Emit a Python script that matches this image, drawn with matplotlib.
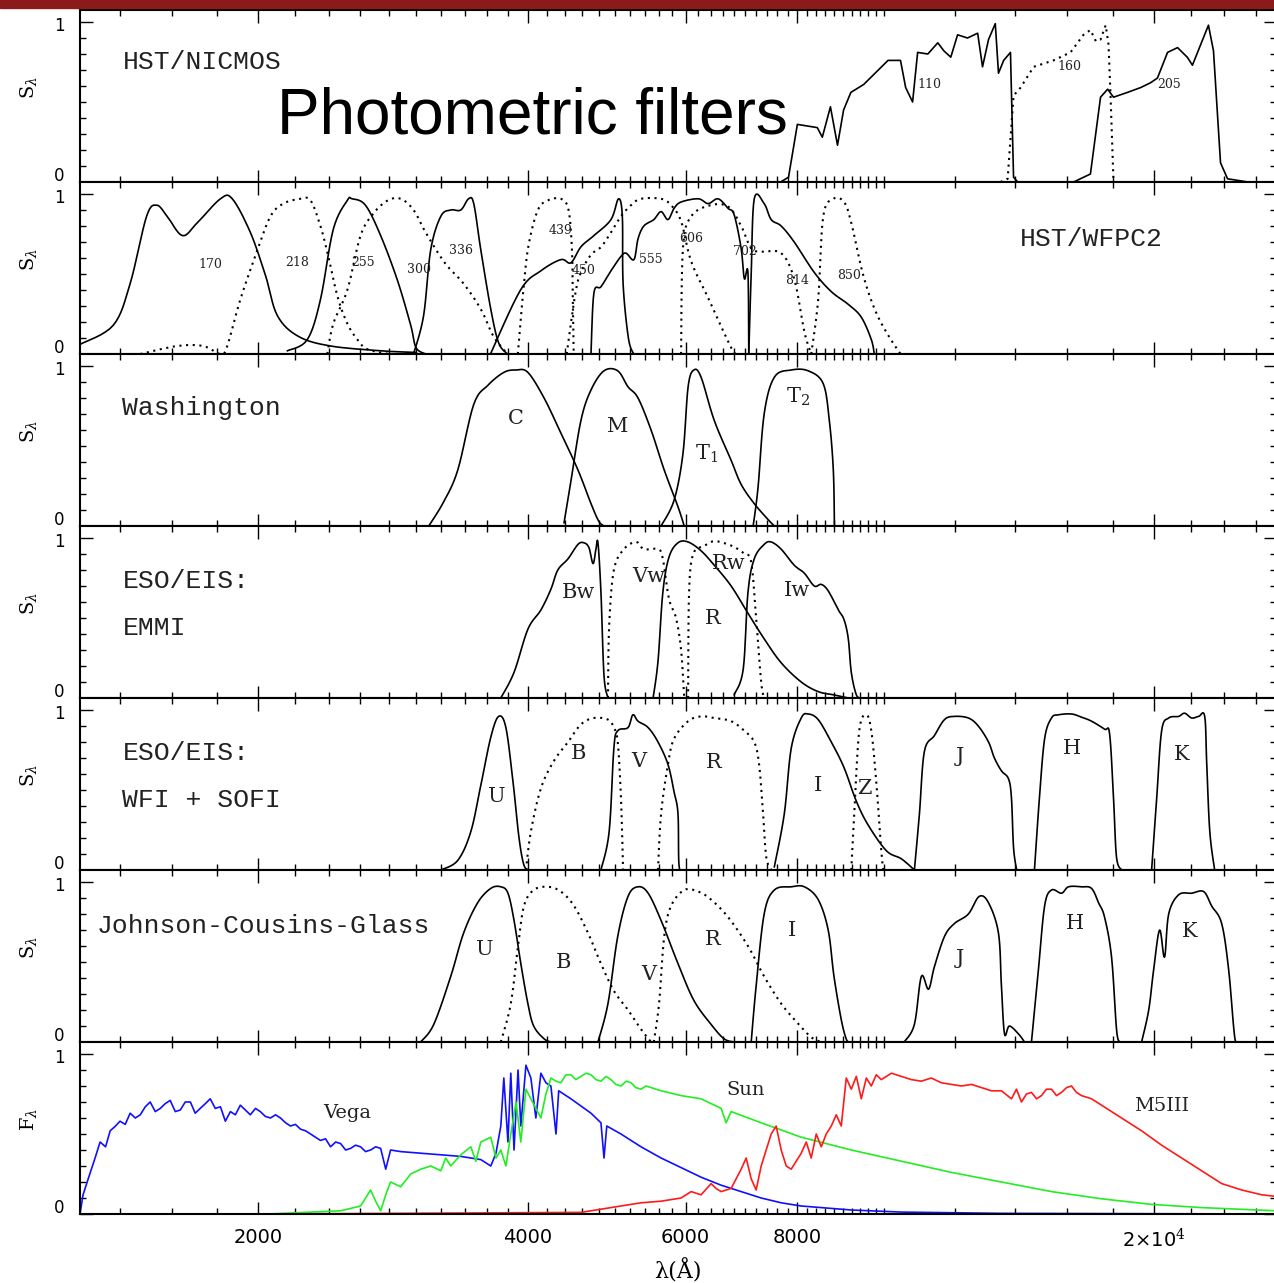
import numpy as np
import matplotlib.pyplot as plt
import matplotlib.transforms as mtransforms
from matplotlib.patches import Rectangle
from matplotlib.ticker import FixedLocator, NullFormatter

# ---------------- data: (wavelength [A], relative response) ----------------
# HST/NICMOS
nic_110 = [(7663, 0.0), (7820, 0.03), (8000, 0.36), (8420, 0.34), (8530, 0.28), (8710, 0.47),
           (8870, 0.23), (9010, 0.45), (9180, 0.56), (9490, 0.61), (10100, 0.76), (10430, 0.76),
           (10570, 0.59), (10760, 0.50), (10900, 0.81), (11190, 0.80), (11480, 0.87), (11660, 0.82),
           (11870, 0.78), (12080, 0.92), (12390, 0.90), (12720, 0.93), (12880, 0.72), (13080, 0.89),
           (13310, 0.99), (13420, 0.68), (13600, 0.76), (13840, 0.81), (13950, 0.03), (14100, 0.0)]
nic_160 = [(13490, 0.0), (13740, 0.02), (13950, 0.54), (14204, 0.59), (14690, 0.72), (15460, 0.76),
           (16150, 0.81), (16700, 0.92), (17000, 0.95), (17240, 0.88), (17448, 0.89), (17680, 0.98),
           (17810, 0.86), (17900, 0.55), (18040, 0.0)]
nic_205 = [(16280, 0.0), (17000, 0.05), (17448, 0.53), (17770, 0.58), (18040, 0.53), (18700, 0.56),
           (19339, 0.59), (19840, 0.62), (20200, 0.65), (20730, 0.81), (21270, 0.84), (21810, 0.78),
           (22100, 0.73), (23030, 0.98), (23330, 0.82), (23756, 0.12), (24190, 0.02), (25500, 0.0)]

# HST/WFPC2
w170 = [(1264, 0.06), (1377, 0.18), (1438, 0.44), (1500, 0.86), (1540, 0.93), (1582, 0.86),
        (1645, 0.74), (1709, 0.82), (1814, 0.97), (1870, 0.97), (1959, 0.76), (2037, 0.49),
        (2100, 0.24), (2217, 0.11), (2408, 0.05), (2739, 0.02), (2990, 0.01), (3300, 0.0), (11000, 0.0)]
w218 = [(1476, 0.0), (1623, 0.05), (1735, 0.05), (1814, 0.0), (1846, 0.05), (1909, 0.34),
        (1995, 0.65), (2063, 0.86), (2132, 0.94), (2229, 0.97), (2287, 0.96), (2346, 0.80),
        (2394, 0.61), (2451, 0.36), (2514, 0.19), (2580, 0.09), (2647, 0.03), (2800, 0.0)]
w255 = [(2155, 0.02), (2268, 0.09), (2346, 0.34), (2425, 0.78), (2514, 0.96), (2545, 0.97),
        (2634, 0.93), (2739, 0.74), (2860, 0.46), (2959, 0.18), (3000, 0.04), (3075, 0.0)]
w300 = [(2388, 0.0), (2425, 0.19), (2514, 0.40), (2601, 0.74), (2690, 0.88), (2790, 0.96),
        (2884, 0.97), (2981, 0.90), (3075, 0.76), (3230, 0.57), (3390, 0.44), (3544, 0.28),
        (3662, 0.11), (3795, 0.0)]
w336 = [(2981, 0.0), (3059, 0.24), (3115, 0.65), (3197, 0.86), (3280, 0.90), (3366, 0.90),
        (3434, 0.97), (3480, 0.94), (3544, 0.65), (3636, 0.28), (3710, 0.07), (3795, 0.0)]
w439 = [(3898, 0.0), (3960, 0.44), (4010, 0.69), (4104, 0.90), (4211, 0.96), (4355, 0.97),
        (4441, 0.90), (4480, 0.65), (4490, 0.34), (4500, 0.0)]
w450 = [(3633, 0.0), (3925, 0.40), (4136, 0.52), (4355, 0.59), (4468, 0.57), (4585, 0.67),
        (4740, 0.74), (4953, 0.84), (5050, 0.97), (5100, 0.86), (5110, 0.44), (5180, 0.10), (5250, 0.0)]
w555 = [(4420, 0.0), (4520, 0.38), (4585, 0.51), (4705, 0.62), (4830, 0.67), (4953, 0.76),
        (5082, 0.86), (5215, 0.93), (5351, 0.97), (5634, 0.97), (5781, 0.93), (5932, 0.83),
        (6087, 0.58), (6360, 0.35), (6747, 0.04), (6850, 0.0)]
w606 = [(4705, 0.0), (4740, 0.38), (4827, 0.42), (4953, 0.52), (5082, 0.61), (5150, 0.63),
        (5255, 0.59), (5310, 0.72), (5390, 0.80), (5530, 0.84), (5634, 0.89), (5735, 0.84),
        (5825, 0.91), (5932, 0.95), (6200, 0.97), (6360, 0.94), (6525, 0.97), (6695, 0.91),
        (6800, 0.87), (6923, 0.66), (6980, 0.47), (7045, 0.51), (7060, 0.0)]
w702 = [(5932, 0.0), (5960, 0.66), (6087, 0.86), (6400, 0.93), (6700, 0.92), (6923, 0.80),
        (7104, 0.66), (7300, 0.64), (7674, 0.63), (7935, 0.47), (8145, 0.14), (8290, 0.0)]
w814 = [(7060, 0.0), (7104, 0.50), (7160, 0.97), (7345, 0.94), (7479, 0.84), (7674, 0.80),
        (7935, 0.70), (8355, 0.51), (8729, 0.39), (9120, 0.31), (9430, 0.23), (9676, 0.09), (9750, 0.0)]
w850 = [(8290, 0.0), (8440, 0.34), (8550, 0.86), (8775, 0.97), (9020, 0.95), (9190, 0.82),
        (9490, 0.48), (9850, 0.23), (10370, 0.02), (10500, 0.0)]

# Washington
wa_C = [(3100, 0.0), (3220, 0.15), (3340, 0.35), (3480, 0.76), (3610, 0.88), (3760, 0.96), (3880, 0.975),
        (4000, 0.96), (4170, 0.80), (4355, 0.58), (4550, 0.35), (4705, 0.14), (4800, 0.03), (4865, 0.0)]
wa_M = [(4390, 0.02), (4468, 0.28), (4585, 0.66), (4705, 0.85), (4865, 0.97), (5040, 0.97), (5175, 0.87),
        (5310, 0.80), (5491, 0.60), (5680, 0.35), (5885, 0.12), (5980, 0.0)]
wa_T1 = [(5634, 0.0), (5825, 0.16), (5960, 0.45), (6040, 0.87), (6130, 0.975), (6245, 0.93), (6460, 0.66),
         (6747, 0.41), (6923, 0.26), (7160, 0.14), (7420, 0.04), (7540, 0.0)]
wa_T2 = [(7140, 0.0), (7230, 0.24), (7345, 0.70), (7540, 0.93), (7874, 0.975), (8225, 0.97), (8550, 0.89),
         (8685, 0.66), (8775, 0.35), (8800, 0.0)]

# ESO/EIS EMMI
em_Bw = [(3731, 0.0), (3860, 0.16), (4000, 0.43), (4136, 0.55), (4244, 0.68), (4320, 0.80), (4435, 0.87),
         (4550, 0.96), (4620, 0.97), (4680, 0.94), (4730, 0.84), (4765, 0.93), (4790, 0.97), (4827, 0.66),
         (4865, 0.14), (4915, 0.0)]
em_Vw = [(4915, 0.0), (4930, 0.45), (4990, 0.80), (5120, 0.93), (5285, 0.975), (5390, 0.93), (5590, 0.93),
         (5660, 0.87), (5750, 0.62), (5855, 0.50), (5932, 0.30), (5980, 0.0)]
em_Rw = [(6040, 0.0), (6055, 0.66), (6120, 0.90), (6295, 0.95), (6460, 0.98), (6695, 0.96), (6870, 0.93),
         (6980, 0.90), (7104, 0.85), (7195, 0.50), (7289, 0.10), (7345, 0.0)]
em_R = [(5520, 0.0), (5590, 0.23), (5660, 0.66), (5750, 0.88), (5885, 0.97), (6040, 0.975), (6245, 0.92),
        (6460, 0.83), (6747, 0.70), (7045, 0.53), (7345, 0.37), (7674, 0.22), (8080, 0.10), (8440, 0.04),
        (8775, 0.02), (9120, 0.0)]
em_Iw = [(6800, 0.02), (6960, 0.18), (7045, 0.66), (7160, 0.87), (7345, 0.96), (7479, 0.975), (7674, 0.93),
         (7935, 0.83), (8145, 0.78), (8355, 0.70), (8507, 0.71), (8660, 0.67), (8890, 0.55), (9020, 0.49),
         (9120, 0.37), (9190, 0.16), (9310, 0.02), (9430, 0.0)]

# ESO/EIS WFI + SOFI
wf_U = [(3197, 0.0), (3340, 0.06), (3454, 0.24), (3544, 0.53), (3636, 0.83), (3710, 0.96), (3780, 0.89),
        (3850, 0.55), (3910, 0.20), (3960, 0.03), (4010, 0.0)]
wf_B = [(3980, 0.0), (4031, 0.24), (4136, 0.51), (4275, 0.68), (4435, 0.80), (4585, 0.91), (4740, 0.95),
        (4915, 0.94), (4990, 0.89), (5040, 0.80), (5082, 0.45), (5110, 0.0)]
wf_V = [(4827, 0.0), (4930, 0.24), (4990, 0.76), (5040, 0.87), (5175, 0.89), (5240, 0.97), (5310, 0.93),
        (5450, 0.89), (5590, 0.80), (5735, 0.66), (5825, 0.49), (5885, 0.35), (5900, 0.03), (5960, 0.0)]
wf_R = [(5590, 0.0), (5634, 0.35), (5735, 0.66), (5825, 0.82), (6040, 0.93), (6245, 0.96), (6460, 0.95),
        (6747, 0.93), (6980, 0.87), (7160, 0.80), (7250, 0.66), (7325, 0.35), (7385, 0.08), (7479, 0.0)]
wf_I = [(7540, 0.02), (7735, 0.35), (7874, 0.76), (8080, 0.95), (8225, 0.975), (8440, 0.94), (8729, 0.80),
        (9020, 0.64), (9310, 0.43), (9600, 0.28), (10060, 0.12), (10453, 0.07), (10810, 0.0)]
wf_Z = [(9190, 0.0), (9260, 0.35), (9380, 0.87), (9550, 0.97), (9676, 0.87), (9800, 0.55), (9928, 0.12),
        (9980, 0.0)]
wf_J = [(10810, 0.0), (10950, 0.35), (11090, 0.74), (11380, 0.84), (11680, 0.94), (11980, 0.96),
        (12420, 0.95), (12740, 0.90), (13080, 0.80), (13280, 0.70), (13522, 0.62), (13770, 0.57),
        (13875, 0.45), (13950, 0.14), (14060, 0.0)]
wf_H = [(14720, 0.0), (14910, 0.45), (15110, 0.82), (15381, 0.95), (15660, 0.97), (16193, 0.975),
        (16616, 0.955), (17049, 0.93), (17630, 0.88), (17860, 0.85), (18040, 0.45), (18180, 0.08), (18418, 0.0)]
wf_K = [(19898, 0.0), (20160, 0.45), (20417, 0.87), (20790, 0.95), (21330, 0.96), (21660, 0.98),
        (22057, 0.95), (22460, 0.96), (22810, 0.96), (22930, 0.66), (23110, 0.24), (23400, 0.0)]

# Johnson-Cousins-Glass
jc_U = [(3036, 0.0), (3140, 0.11), (3280, 0.41), (3390, 0.68), (3515, 0.87), (3636, 0.96), (3731, 0.97),
        (3800, 0.93), (3860, 0.76), (3928, 0.49), (4000, 0.24), (4060, 0.10), (4170, 0.02), (4244, 0.0)]
jc_B = [(3731, 0.0), (3828, 0.24), (3900, 0.60), (3960, 0.85), (4060, 0.95), (4210, 0.97), (4355, 0.94),
        (4505, 0.85), (4670, 0.68), (4827, 0.49), (4990, 0.32), (5175, 0.20), (5351, 0.08), (5491, 0.0)]
jc_V = [(4790, 0.0), (4915, 0.24), (5040, 0.66), (5175, 0.91), (5310, 0.97), (5450, 0.93), (5634, 0.76),
        (5885, 0.49), (6130, 0.26), (6408, 0.11), (6625, 0.02), (6800, 0.0)]
jc_R = [(5530, 0.0), (5605, 0.24), (5680, 0.66), (5781, 0.85), (5980, 0.95), (6200, 0.94), (6408, 0.89),
        (6695, 0.78), (7045, 0.60), (7345, 0.41), (7674, 0.24), (8000, 0.12), (8290, 0.03), (8507, 0.0)]
jc_I = [(7104, 0.0), (7195, 0.35), (7345, 0.80), (7540, 0.95), (7874, 0.97), (8145, 0.97), (8440, 0.89),
        (8660, 0.70), (8790, 0.41), (8956, 0.14), (9070, 0.02), (9140, 0.0)]
jc_J = [(10530, 0.0), (10810, 0.11), (11005, 0.41), (11210, 0.33), (11380, 0.47), (11680, 0.66),
        (11980, 0.74), (12420, 0.80), (12770, 0.91), (13080, 0.87), (13420, 0.68), (13522, 0.35),
        (13630, 0.05), (13800, 0.10), (14130, 0.05), (14350, 0.0)]
jc_H = [(14608, 0.0), (14870, 0.45), (15110, 0.85), (15381, 0.95), (15782, 0.93), (16070, 0.97),
        (16616, 0.97), (17049, 0.96), (17360, 0.87), (17630, 0.78), (17950, 0.53), (18180, 0.08), (18320, 0.0)]
jc_K = [(19392, 0.0), (19750, 0.20), (20000, 0.45), (20310, 0.70), (20570, 0.53), (20790, 0.80),
        (21330, 0.92), (22057, 0.93), (22750, 0.94), (23222, 0.85), (23828, 0.74), (24260, 0.45),
        (24640, 0.03), (24890, 0.0)]

# spectra (F_lambda, normalised)
vega = [(1264, 0.0), (1274, 0.12), (1291, 0.22), (1314, 0.35), (1331, 0.45), (1350, 0.42), (1366, 0.52),
        (1385, 0.55), (1401, 0.58), (1420, 0.56), (1438, 0.63), (1457, 0.60), (1476, 0.62), (1495, 0.67),
        (1514, 0.70), (1534, 0.64), (1554, 0.66), (1574, 0.69), (1594, 0.71), (1615, 0.64), (1636, 0.65),
        (1657, 0.70), (1679, 0.70), (1700, 0.63), (1722, 0.66), (1745, 0.69), (1767, 0.72), (1790, 0.66),
        (1814, 0.67), (1837, 0.58), (1861, 0.64), (1885, 0.62), (1909, 0.68), (1934, 0.65), (1959, 0.62),
        (1985, 0.66), (2010, 0.64), (2036, 0.61), (2063, 0.60), (2090, 0.62), (2117, 0.60), (2145, 0.57),
        (2172, 0.55), (2200, 0.56), (2229, 0.53), (2258, 0.52), (2287, 0.50), (2316, 0.48), (2346, 0.46),
        (2377, 0.47), (2408, 0.42), (2440, 0.45), (2471, 0.44), (2503, 0.40), (2535, 0.41), (2568, 0.43),
        (2601, 0.42), (2635, 0.39), (2669, 0.40), (2704, 0.42), (2739, 0.41), (2775, 0.28), (2810, 0.40),
        (2884, 0.39), (3036, 0.38), (3197, 0.37), (3366, 0.36), (3544, 0.34), (3636, 0.30), (3685, 0.38),
        (3731, 0.55), (3760, 0.85), (3800, 0.45), (3828, 0.88), (3860, 0.40), (3900, 0.90), (3928, 0.55),
        (3980, 0.93), (4031, 0.85), (4083, 0.60), (4136, 0.88), (4190, 0.82), (4244, 0.80), (4300, 0.50),
        (4330, 0.77), (4468, 0.72), (4705, 0.63), (4827, 0.57), (4865, 0.35), (4900, 0.55), (5082, 0.50),
        (5351, 0.42), (5634, 0.35), (5932, 0.29), (6245, 0.23), (6576, 0.18), (6923, 0.14), (7289, 0.10),
        (7674, 0.07), (8080, 0.05), (9190, 0.025), (10453, 0.012), (13522, 0.004), (27400, 0.0)]
sun = [(1264, 0.0), (2050, 0.0), (2471, 0.02), (2601, 0.05), (2669, 0.15), (2704, 0.08), (2739, 0.02),
       (2775, 0.12), (2810, 0.20), (2884, 0.17), (2959, 0.25), (3036, 0.28), (3116, 0.30), (3197, 0.27),
       (3238, 0.35), (3280, 0.30), (3366, 0.37), (3454, 0.42), (3499, 0.33), (3544, 0.45), (3636, 0.48),
       (3685, 0.35), (3731, 0.40), (3780, 0.30), (3828, 0.50), (3880, 0.70), (3928, 0.45), (3980, 0.78),
       (4031, 0.72), (4136, 0.60), (4190, 0.75), (4244, 0.85), (4300, 0.83), (4355, 0.82), (4410, 0.87),
       (4468, 0.87), (4525, 0.84), (4585, 0.86), (4645, 0.88), (4705, 0.87), (4765, 0.84), (4827, 0.83),
       (4890, 0.86), (4953, 0.84), (5015, 0.81), (5082, 0.80), (5150, 0.83), (5215, 0.82), (5280, 0.79),
       (5351, 0.78), (5420, 0.80), (5491, 0.79), (5634, 0.77), (5932, 0.74), (6245, 0.72), (6576, 0.66),
       (6660, 0.57), (6747, 0.64), (7289, 0.57), (8080, 0.48), (9190, 0.40), (10453, 0.33), (11889, 0.26),
       (13522, 0.20), (15381, 0.14), (17494, 0.095), (19898, 0.06), (22632, 0.04), (27400, 0.02)]
m5iii = [(2050, 0.0), (4585, 0.01), (4827, 0.03), (5082, 0.05), (5351, 0.07), (5634, 0.08), (5932, 0.10),
         (6087, 0.14), (6245, 0.12), (6408, 0.19), (6490, 0.16), (6576, 0.14), (6747, 0.16), (6923, 0.28),
         (7013, 0.35), (7104, 0.22), (7195, 0.15), (7289, 0.30), (7479, 0.50), (7576, 0.55), (7674, 0.40),
         (7774, 0.30), (7874, 0.28), (8080, 0.38), (8185, 0.45), (8290, 0.35), (8398, 0.50), (8507, 0.42),
         (8617, 0.50), (8729, 0.55), (8842, 0.62), (8956, 0.55), (9072, 0.85), (9190, 0.78), (9310, 0.86),
         (9430, 0.72), (9552, 0.85), (9676, 0.80), (9800, 0.87), (9928, 0.84), (10190, 0.88), (10453, 0.86),
         (10725, 0.84), (11005, 0.83), (11290, 0.85), (11587, 0.82), (11890, 0.81), (12199, 0.80),
         (12520, 0.81), (12844, 0.79), (13180, 0.77), (13522, 0.77), (13875, 0.72), (14055, 0.78),
         (14237, 0.70), (14420, 0.75), (14608, 0.76), (14800, 0.72), (14990, 0.74), (15180, 0.78),
         (15381, 0.78), (15580, 0.74), (15782, 0.76), (15990, 0.79), (16193, 0.80), (16400, 0.76),
         (16616, 0.74), (17049, 0.72), (17494, 0.68), (18418, 0.60), (19392, 0.52), (20417, 0.43),
         (21496, 0.35), (22632, 0.27), (23828, 0.19), (25088, 0.15), (26414, 0.12), (27400, 0.11)]

# ---------------- panel definitions ----------------
SOLID, DOT = '-', ':'
panels = [
    dict(curves=[(nic_110, SOLID), (nic_160, DOT), (nic_205, SOLID)],
         names=[('HST/NICMOS', 1410, 0.75)],
         labels=[('110', 11230, 0.61), ('160', 16110, 0.72), ('205', 20790, 0.61)],
         small=True, smooth=False),
    dict(curves=[(w170, SOLID), (w218, DOT), (w255, SOLID), (w300, DOT), (w336, SOLID), (w439, DOT),
                 (w450, SOLID), (w555, DOT), (w606, SOLID), (w702, DOT), (w814, SOLID), (w850, DOT)],
         names=[('HST/WFPC2', 14170, 0.72)],
         labels=[('170', 1767, 0.56), ('218', 2211, 0.575), ('255', 2615, 0.57), ('300', 3020, 0.53),
                 ('336', 3366, 0.65), ('439', 4355, 0.77), ('450', 4620, 0.52), ('555', 5491, 0.59),
                 ('606', 6087, 0.72), ('702', 6995, 0.64), ('814', 8000, 0.46), ('850', 9140, 0.49)],
         small=True, smooth=True),
    dict(curves=[(wa_C, SOLID), (wa_M, SOLID), (wa_T1, SOLID), (wa_T2, SOLID)],
         names=[('Washington', 1410, 0.74)],
         labels=[('C', 3880, 0.67), ('M', 5040, 0.62), (r'T$_1$', 6330, 0.45), (r'T$_2$', 8020, 0.81)],
         smooth=True),
    dict(curves=[(em_Bw, SOLID), (em_Vw, DOT), (em_Rw, DOT), (em_R, SOLID), (em_Iw, SOLID)],
         names=[('ESO/EIS:', 1410, 0.73), ('EMMI', 1410, 0.44)],
         labels=[('Bw', 4560, 0.66), ('Vw', 5460, 0.76), ('Rw', 6710, 0.84), ('R', 6440, 0.50),
                 ('Iw', 8000, 0.67)], smooth=True),
    dict(curves=[(wf_U, SOLID), (wf_B, DOT), (wf_V, SOLID), (wf_R, DOT), (wf_I, SOLID), (wf_Z, DOT),
                 (wf_J, SOLID), (wf_H, SOLID), (wf_K, SOLID)],
         names=[('ESO/EIS:', 1410, 0.73), ('WFI + SOFI', 1410, 0.44)],
         labels=[('U', 3690, 0.46), ('B', 4560, 0.73), ('V', 5320, 0.68), ('R', 6460, 0.67),
                 ('I', 8440, 0.53), ('Z', 9500, 0.51), ('J', 12140, 0.71), ('H', 16190, 0.76),
                 ('K', 21500, 0.72)], smooth=True),
    dict(curves=[(jc_U, SOLID), (jc_B, DOT), (jc_V, SOLID), (jc_R, DOT), (jc_I, SOLID),
                 (jc_J, SOLID), (jc_H, SOLID), (jc_K, SOLID)],
         names=[('Johnson-Cousins-Glass', 1320, 0.725)],
         labels=[('U', 3580, 0.58), ('B', 4380, 0.50), ('V', 5460, 0.42), ('R', 6440, 0.64),
                 ('I', 7900, 0.70), ('J', 12140, 0.525), ('H', 16320, 0.74), ('K', 21950, 0.69)],
         smooth=True),
]
spectra = [(vega, '#1010ff'), (sun, '#22ee22'), (m5iii, '#ff1a1a')]
spec_labels = [('Vega', 2510, 0.63), ('Sun', 7010, 0.775), ('M5III', 20420, 0.675)]


def catmull(data, n=8):
    """Catmull-Rom curve through the read points, in log-wavelength space."""
    pts = np.array(data, dtype=float)
    pts[:, 0] = np.log10(pts[:, 0])
    P = np.vstack([pts[0], pts, pts[-1]])
    t = np.linspace(0, 1, n, endpoint=False)[:, None]
    out = []
    for i in range(1, len(P) - 2):
        p0, p1, p2, p3 = P[i - 1], P[i], P[i + 1], P[i + 2]
        out.append(0.5 * (2 * p1 + (p2 - p0) * t + (2 * p0 - 5 * p1 + 4 * p2 - p3) * t ** 2
                          + (3 * p1 - p0 - 3 * p2 + p3) * t ** 3))
    out.append(pts[-1:])
    res = np.vstack(out)
    return 10 ** res[:, 0], np.clip(res[:, 1], 0, 1.0)


# ---------------- figure ----------------
W, H = 1274, 1283
fig = plt.figure(figsize=(W / 100, H / 100), dpi=100)
fig.patches.append(Rectangle((0, 1 - 8 / H), 1, 8 / H, transform=fig.transFigure,
                             color='#8b1a1a', zorder=10))

XMIN, XMAX = 1264, 27400
major_x = [2000, 4000, 6000, 8000, 20000]
minor_x = ([1400, 1600, 1800] + list(range(2200, 4000, 200)) + list(range(4200, 6000, 200))
           + list(range(6200, 8000, 200)) + list(range(8200, 10200, 200)) + [12000, 14000, 16000, 18000]
           + [22000, 24000, 26000])

mono = 'Liberation Mono'
serif = 'DejaVu Serif'
plt.rcParams['mathtext.fontset'] = 'dejavuserif'


def make_axes(i):
    top = 10 + 172 * i
    ax = fig.add_axes([80 / W, 1 - (top + 172) / H, 1 - 80 / W + 2 / W, 172 / H])
    ax.set_xscale('log')
    ax.set_xlim(XMIN, XMAX)
    ax.set_ylim(0, 1.075)
    ax.xaxis.set_major_locator(FixedLocator(major_x))
    ax.xaxis.set_minor_locator(FixedLocator(minor_x))
    ax.xaxis.set_minor_formatter(NullFormatter())
    ax.yaxis.set_major_locator(FixedLocator([0, 1]))
    ax.yaxis.set_minor_locator(FixedLocator(np.arange(0.1, 1.0, 0.1)))
    ax.yaxis.set_major_formatter(NullFormatter())
    ax.tick_params(which='both', direction='in', top=True, right=True, width=1.0)
    ax.tick_params(which='major', length=9)
    ax.tick_params(which='minor', length=4.5)
    for sp in ax.spines.values():
        sp.set_linewidth(1.5)
    if i < 6:
        ax.xaxis.set_major_formatter(NullFormatter())
    # y tick labels, nudged apart where neighbouring panels meet
    tr = mtransforms.blended_transform_factory(ax.transAxes, ax.transData)
    ax.text(-0.0175, 0.035, '0', transform=tr, ha='center', va='center', fontsize=12)
    ax.text(-0.0175, 0.975, '1', transform=tr, ha='center', va='center', fontsize=12)
    return ax


for i, p in enumerate(panels):
    ax = make_axes(i)
    for data, ls in p['curves']:
        if p['smooth']:
            wl, s = catmull(data)
        else:
            wl, s = np.array(data).T
        if ls == DOT:
            ax.plot(wl, s, color='black', lw=1.5, ls=(0, (1, 2.2)))
        else:
            ax.plot(wl, s, color='black', lw=1.2)
    for txt, x, y in p['names']:
        ax.text(x, y, txt, fontsize=19, family=mono, ha='left', va='center', color='#222222')
    small = p.get('small', False)
    for txt, x, y in p['labels']:
        ax.text(x, y, txt, fontsize=9 if small else 15, family=serif, ha='center', va='center',
                color='#222222')
    ax.set_ylabel(r'S$_\lambda$', fontsize=14, family=serif)
    ax.yaxis.set_label_coords(-0.034, 0.55)

ax = make_axes(6)
for data, col in spectra:
    wl, f = np.array(data).T
    ax.plot(wl, f, color=col, lw=1.2)
for txt, x, y in spec_labels:
    ax.text(x, y, txt, fontsize=14, family=serif, ha='center', va='center', color='#222222')
ax.set_ylabel(r'F$_\lambda$', fontsize=14, family=serif)
ax.yaxis.set_label_coords(-0.034, 0.55)
ax.set_xticklabels(['2000', '4000', '6000', '8000', r'2$\times$10$^4$'])
ax.tick_params(axis='x', labelsize=14, pad=10)
ax.set_xlabel('λ(Å)', fontsize=16, family=serif, labelpad=6)

fig.text(277 / W, 1 - 117 / H, 'Photometric filters', fontsize=46, family='Liberation Sans',
         ha='left', va='center', zorder=20)

fig.savefig('out.png', dpi=100, facecolor='white')
